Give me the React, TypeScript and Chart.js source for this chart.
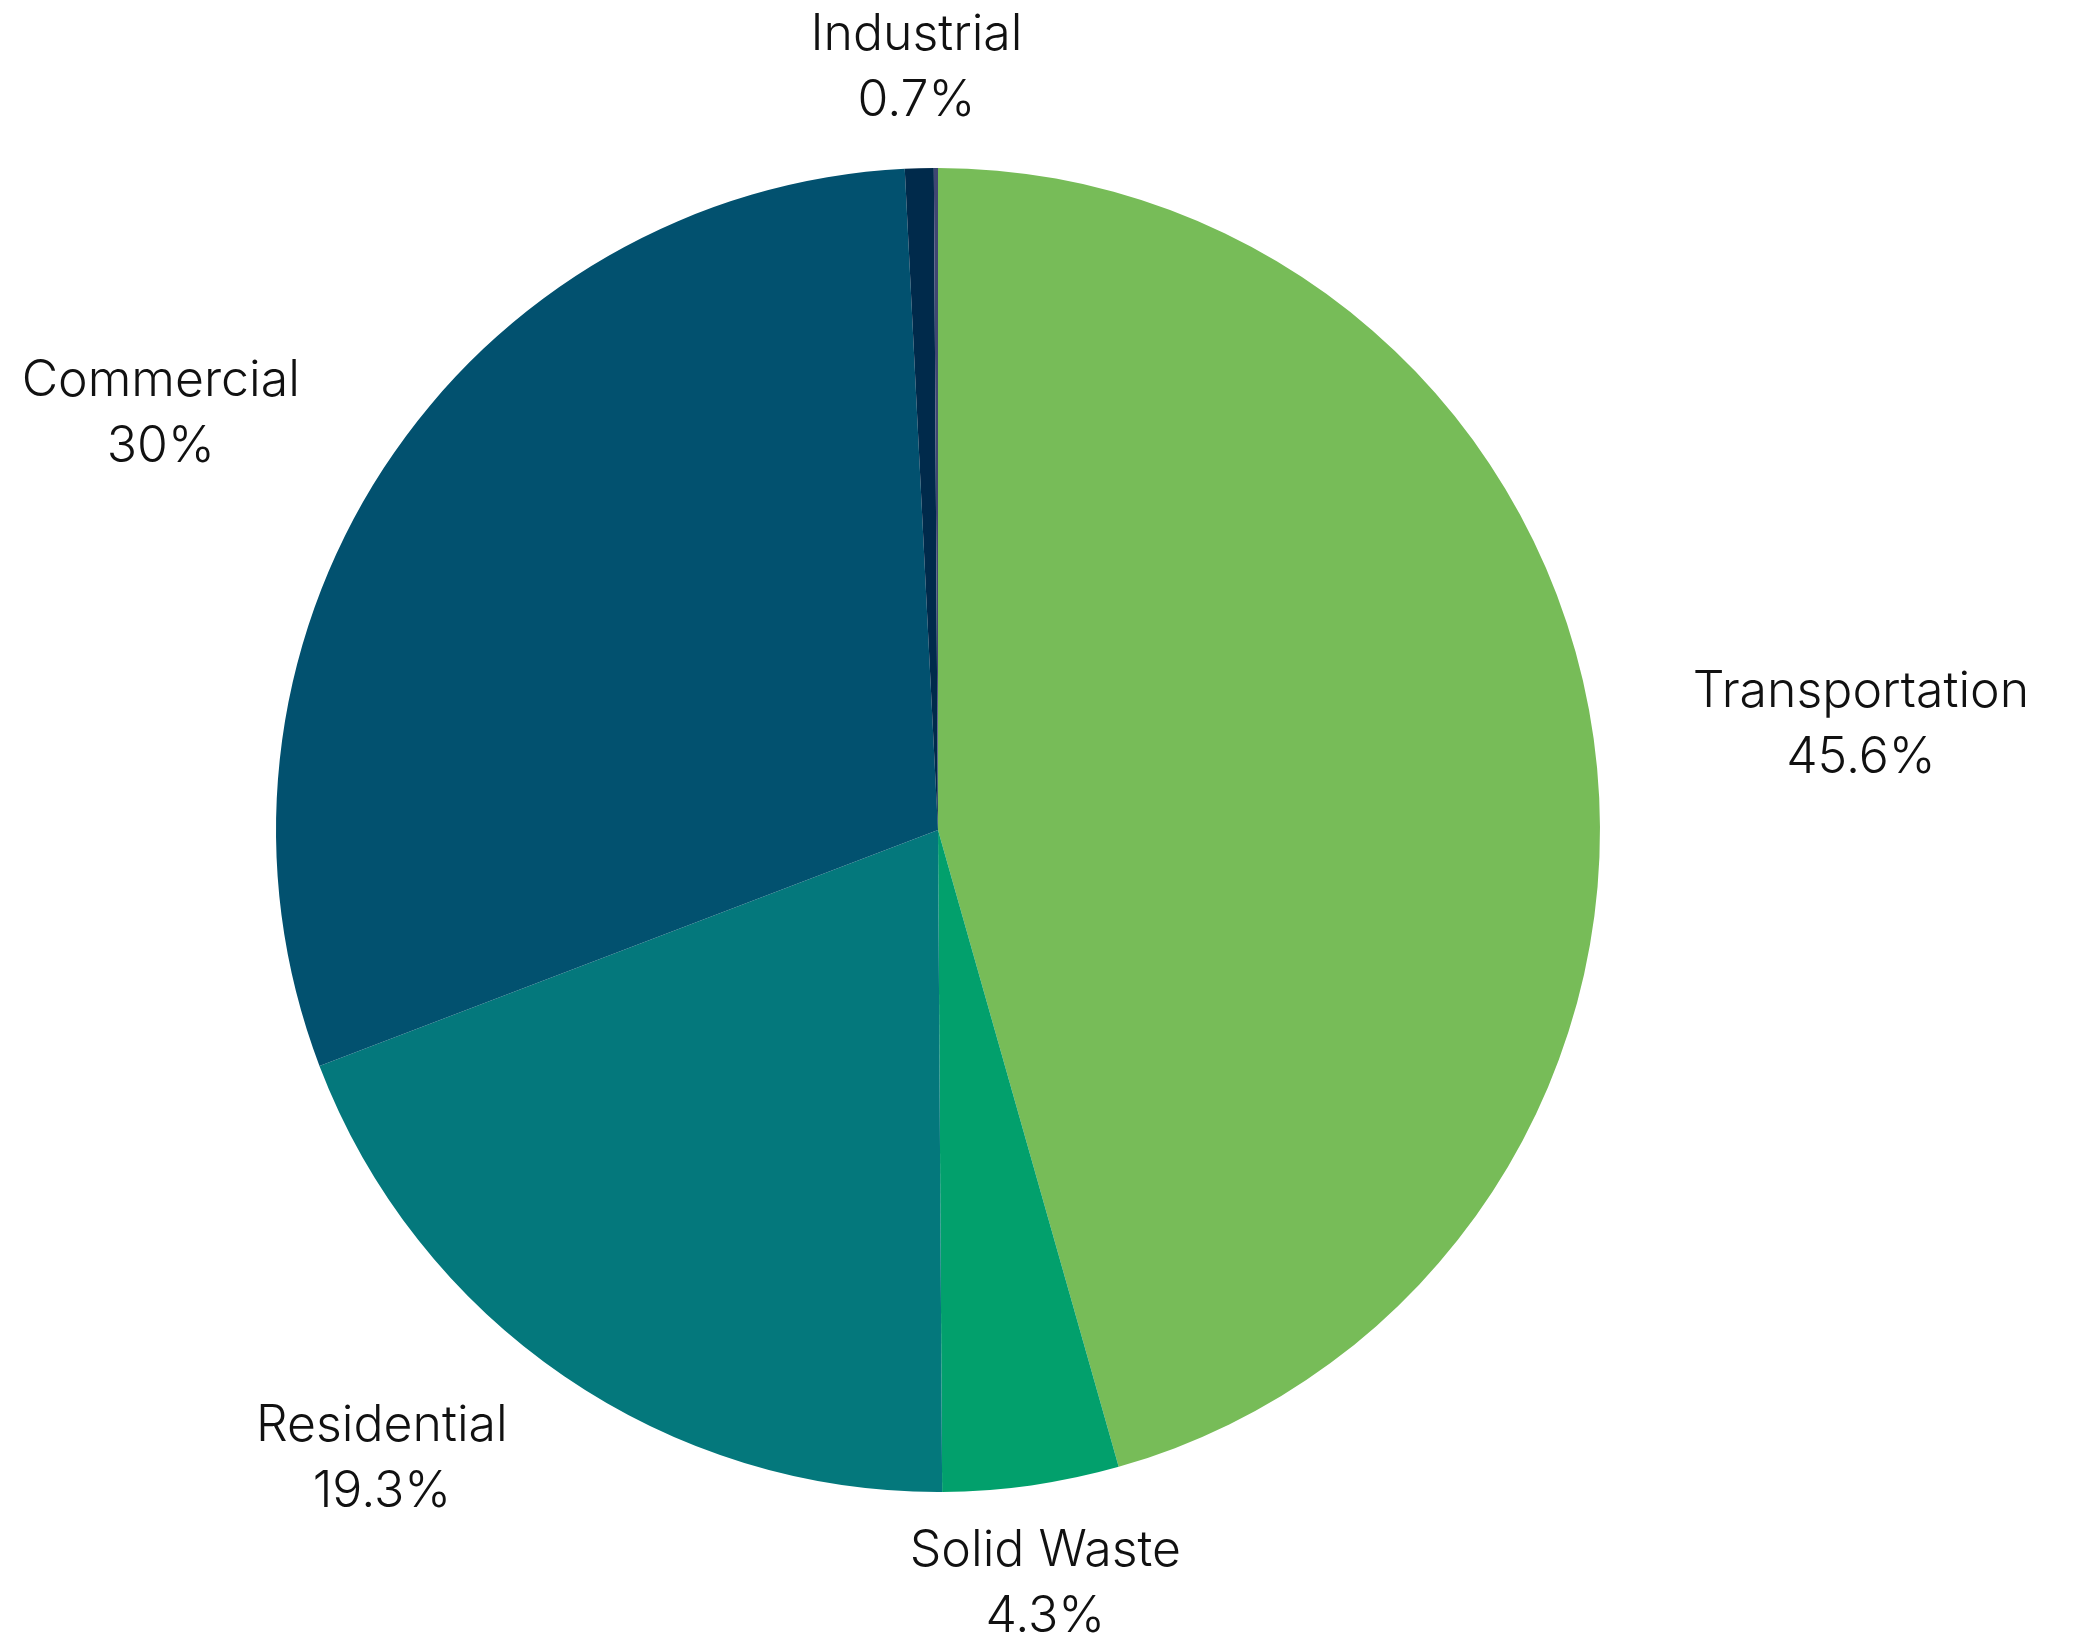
import React, { useEffect, useRef } from "react";
import { Chart, registerables } from "chart.js";

Chart.register(...registerables);

const categories = ["Transportation", "Solid Waste", "Residential", "Commercial", "Industrial", "Other"];
const shares = [45.6, 4.3, 19.3, 30, 0.7, 0.1];
const sliceColors = ["#77bc58", "#02a06c", "#04787c", "#02516f", "#002a4b", "#3f4672"];
const shownLabels = [true, true, true, true, true, false];

const FONT = "300 50px Inter, 'Noto Sans', sans-serif";
const LINE_H = 66;

const labelPlugin = {
  id: "outsideLabels",
  afterDraw(chart: any) {
    const ctx = chart.ctx as CanvasRenderingContext2D;
    const meta = chart.getDatasetMeta(0);
    ctx.save();
    ctx.font = FONT;
    ctx.fillStyle = "#111111";
    ctx.textAlign = "center";
    ctx.textBaseline = "middle";
    meta.data.forEach((arc: any, i: number) => {
      if (!shownLabels[i]) return;
      const { x, y, startAngle, endAngle, outerRadius } = arc.getProps(
        ["x", "y", "startAngle", "endAngle", "outerRadius"],
        true
      );
      const mid = (startAngle + endAngle) / 2;
      const c = Math.cos(mid);
      const s = Math.sin(mid);
      const line1 = categories[i];
      const line2 = `${shares[i]}%`;
      const w = Math.max(ctx.measureText(line1).width, ctx.measureText(line2).width);
      const R = outerRadius * 1.151;
      const shift = Math.abs(c) > 0.3 ? Math.sign(c) * w / 2 : 0;
      const cx = x + c * R + shift;
      const cy = y + s * R;
      ctx.fillText(line1, cx, cy - LINE_H / 2);
      ctx.fillText(line2, cx, cy + LINE_H / 2);
    });
    ctx.restore();
  },
};

export default function App() {
  const ref = useRef<HTMLCanvasElement | null>(null);
  useEffect(() => {
    if (!ref.current) return;
    const chart = new Chart(ref.current, {
      type: "pie",
      data: {
        labels: categories,
        datasets: [
          {
            data: shares,
            backgroundColor: sliceColors,
            borderWidth: 0,
          },
        ],
      },
      options: {
        animation: false,
        responsive: false,
        maintainAspectRatio: false,
        layout: { padding: { left: 276, right: 475, top: 168, bottom: 149 } },
        plugins: {
          legend: { display: false },
          tooltip: { enabled: false },
        },
      },
      plugins: [labelPlugin],
    });
    return () => chart.destroy();
  }, []);
  return (
    <div style={{ position: "fixed", left: 0, top: 0, width: 2075, height: 1641, background: "#ffffff" }}>
      <canvas ref={ref} width={2075} height={1641} style={{ width: 2075, height: 1641, display: "block" }} />
    </div>
  );
}
